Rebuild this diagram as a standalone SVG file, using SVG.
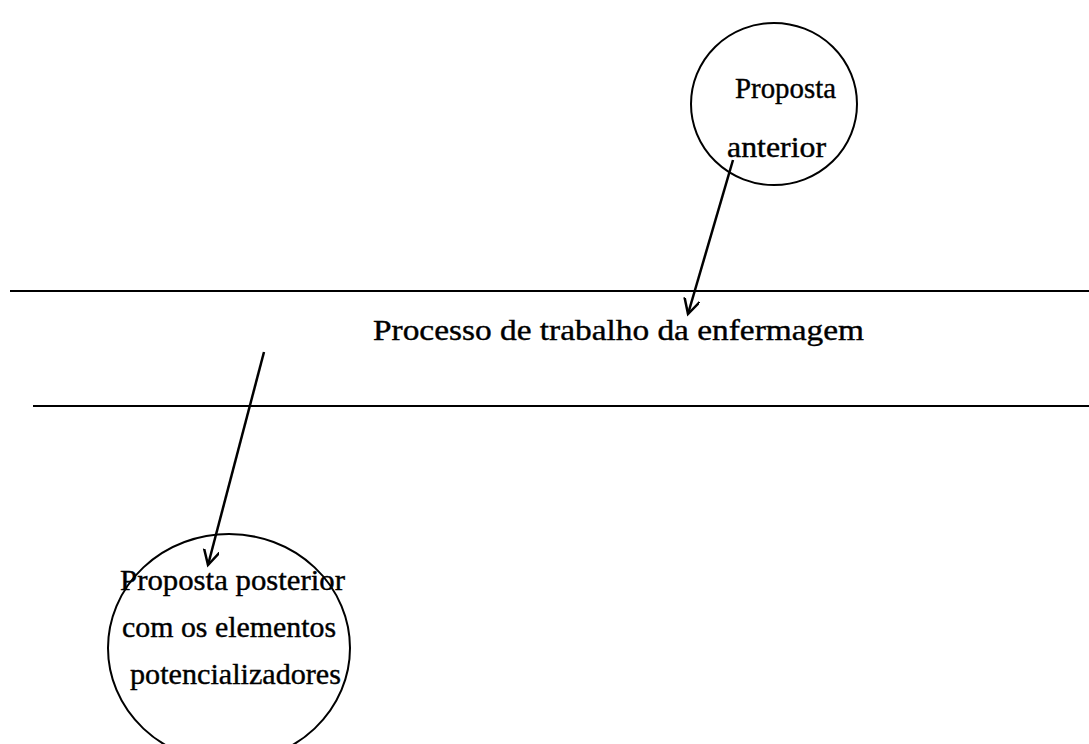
<svg xmlns="http://www.w3.org/2000/svg" width="1089" height="744" viewBox="0 0 1089 744">
<style>
.n{fill:none;stroke:#000;stroke-width:2}
.t{font-family:"Liberation Serif","Times New Roman",serif;font-size:30px;fill:#000;stroke:#000;stroke-width:0.4}
.c{stroke:#000;stroke-width:2.5;fill:none}
</style>
<defs>
<marker id="a" markerWidth="18" markerHeight="18" refX="15" refY="8" orient="auto" markerUnits="userSpaceOnUse">
<path d="M0,0 L15,8 L0,16" fill="none" stroke="#000" stroke-width="2.5"/>
</marker>
</defs>
<rect width="1089" height="744" fill="#fff"/>
<g id="band">
<line x1="10" y1="291" x2="1089" y2="291" stroke="#000" stroke-width="1.8"/>
<line x1="33" y1="406" x2="1089" y2="406" stroke="#000" stroke-width="1.8"/>
<text class="t" x="373" y="340" font-size="32" textLength="491" lengthAdjust="spacingAndGlyphs">Processo de trabalho da enfermagem</text>
</g>
<g id="anterior">
<ellipse class="n" cx="774" cy="104" rx="83" ry="81"/>
<text class="t" x="735" y="98" textLength="101" lengthAdjust="spacingAndGlyphs">Proposta</text>
<text class="t" x="727" y="157" textLength="99" lengthAdjust="spacingAndGlyphs">anterior</text>
</g>
<g id="posterior">
<ellipse class="n" cx="229" cy="648" rx="121" ry="114"/>
<text class="t" x="120" y="590" textLength="225" lengthAdjust="spacingAndGlyphs">Proposta posterior</text>
<text class="t" x="122" y="637" textLength="214" lengthAdjust="spacingAndGlyphs">com os elementos</text>
<text class="t" x="130" y="684" textLength="211" lengthAdjust="spacingAndGlyphs">potencializadores</text>
</g>
<g id="connectors">
<line class="c" x1="733" y1="160" x2="688" y2="314" marker-end="url(#a)"/>
<line class="c" x1="264" y1="352" x2="208" y2="565" marker-end="url(#a)"/>
</g>
</svg>
